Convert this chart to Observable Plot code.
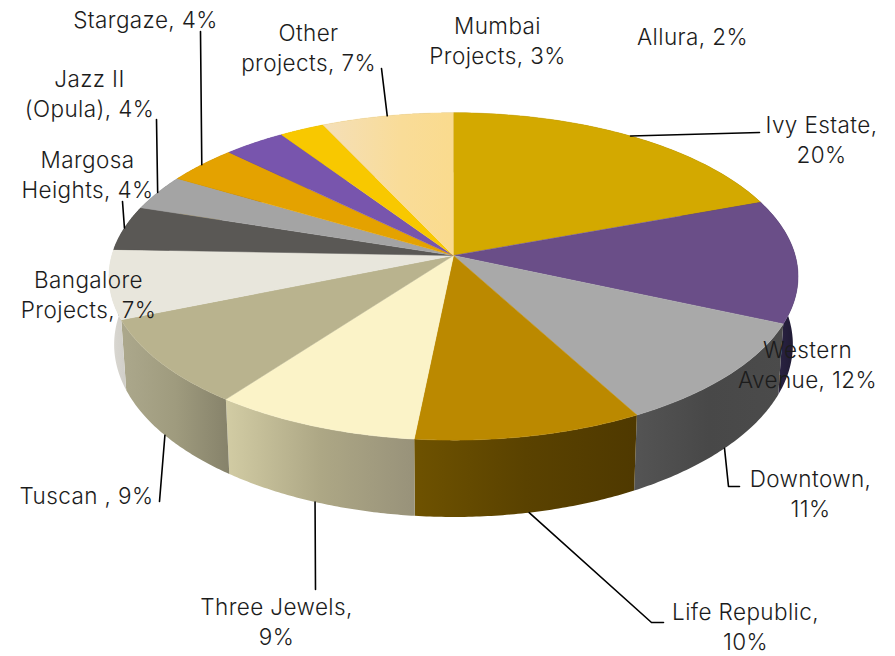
<!DOCTYPE html>
<html>
<head>
<meta charset="utf-8">
<script src="https://cdn.jsdelivr.net/npm/d3@7"></script>
<script src="https://cdn.jsdelivr.net/npm/@observablehq/plot@0.6"></script>
<style>
html,body{margin:0;padding:0;background:#fff;}
svg{display:block;}
svg text{letter-spacing:0.4px;}
</style>
</head>
<body>
<div id="chart"></div>
<script>
// Data, clockwise from twelve o'clock
const projects = ["Ivy Estate","Western Avenue","Downtown","Life Republic","Three Jewels","Tuscan","Bangalore Projects","Margosa Heights","Jazz II (Opula)","Stargaze","Mumbai Projects","Allura","Other projects"];
const shares = [19.4,12.2,10.5,9.5,8.6,8.6,6.8,4.4,3.5,3.8,3.3,2.4,7.0];
const faceColors = ["#d3a900","#6a4e88","#a9a9a9","#bb8900","#fbf3c8","#b9b38e","#e8e6dc","#5a5855","#a4a4a4","#e4a200","#7855ad","#f8c800","#f8dc98"];
const wallStops = [
  ["#8a7000","#6a5600"],["#3b2f58","#1c1830"],["#545454","#484848","#4b4b4b"],["#6e5200","#5a4200","#4f3900"],
  ["#d2cca4","#ada785","#98927a"],["#aca88c","#9f9b7e","#86826a"],["#dcdad4","#d0cec8"],["#444444","#333333"],
  ["#888888","#777777"],["#b08000","#906800"],["#5a4080","#4a3468"],["#c8a000","#a88800"],["#c8b070","#b09860"]
];
// Labels and their leader lines (chart layout)
const labelText = ["Ivy Estate,\n20%","Western\nAvenue, 12%","Downtown,\n11%","Life Republic,\n10%","Three Jewels,\n9%","Tuscan , 9%","Bangalore\nProjects, 7%","Margosa\nHeights, 4%","Jazz II\n(Opula), 4%","Stargaze, 4%","Mumbai\nProjects, 3%","Allura, 2%","Other\nprojects, 7%"];
const labelX = [821,807,810,745,276,86,88,87,89,145,497,692,308];
const labelY = [138,363,492,625,620,494,293,173,92,18,39,35,46];
// Where each leader leaves the slice: "face" rim, "base" rim, or no leader; then its bends
const leaderRing = ["face",null,"base","base","base","base",null,"face","face","face",null,null,"face"];
const leaderBends = [[[759,132]],[],[[728,486],[739,486]],[[651,622],[663,622]],[[315,589]],[[159,501]],[],[[122,201]],[[156,119]],[[200,31]],[],[],[[381,68]]];

// Pie geometry with a perspective foreshortening
const cx = 453, cy = 255, B = 341.7, A = 161, k = 0.128, depth = 67, baseShrink = 0.985;
const rim = t => {
  const s = 1 / (1 + k * Math.cos(t));
  return {x: cx + B * Math.sin(t) * s, y: cy - A * Math.cos(t) * s, s};
};
const base = t => {
  const p = rim(t);
  return {x: cx + (p.x - cx) * baseShrink, y: p.y + depth * p.s};
};
const total = d3.sum(shares);
const starts = d3.cumsum([0, ...shares]).map(v => v / total * 2 * Math.PI);
const arcAngles = (a, b) => d3.range(0, 61).map(i => a + (b - a) * i / 60);

const faces = shares.map((_, i) => [{x: cx, y: cy}, ...arcAngles(starts[i], starts[i + 1]).map(rim)]);
const walls = shares.map((_, i) => {
  const ts = arcAngles(starts[i], starts[i + 1]);
  return [...ts.map(rim), ...ts.slice().reverse().map(base)];
});
const leaders = projects.flatMap((name, i) => {
  if (!leaderRing[i]) return [];
  const mid = (starts[i] + starts[i + 1]) / 2;
  const from = leaderRing[i] === "face" ? rim(mid) : base(mid);
  return [from, ...leaderBends[i].map(([x, y]) => ({x, y}))].map(p => ({...p, name}));
});
const labels = projects.map((name, i) => ({name, text: labelText[i], x: labelX[i], y: labelY[i]}));

const gradients = () => {
  const defs = d3.create("svg:defs");
  wallStops.forEach((stops, i) => {
    const g = defs.append("linearGradient").attr("id", `wall${i}`).attr("x1", 0).attr("x2", 1).attr("y1", 0).attr("y2", 0);
    stops.forEach((c, j) => g.append("stop").attr("offset", j / (stops.length - 1)).attr("stop-color", c));
  });
  const o = defs.append("linearGradient").attr("id", "faceOther").attr("x1", 0).attr("x2", 1).attr("y1", 0).attr("y2", 0);
  o.append("stop").attr("offset", 0).attr("stop-color", "#f4dfb8");
  o.append("stop").attr("offset", 0.6).attr("stop-color", "#f9dc98");
  o.append("stop").attr("offset", 1).attr("stop-color", "#fadb8e");
  return defs.node();
};

const chart = Plot.plot({
  width: 895, height: 656,
  margin: 0,
  x: {domain: [0, 895], range: [0, 895], axis: null},
  y: {domain: [0, 656], range: [0, 656], axis: null},
  style: {background: "#fff", fontFamily: "Inter, Lato, 'Open Sans', sans-serif", fontWeight: 300},
  marks: [
    gradients,
    ...walls.map((pts, i) => Plot.line(pts, {x: "x", y: "y", fill: `url(#wall${i})`, stroke: "none"})),
    ...faces.map((pts, i) => Plot.line(pts, {x: "x", y: "y",
      fill: i === 12 ? "url(#faceOther)" : faceColors[i],
      stroke: faceColors[i], strokeWidth: 0.5})),
    Plot.line(leaders, {x: "x", y: "y", z: "name", stroke: "#000", strokeWidth: 1.6}),
    Plot.text(labels, {x: "x", y: "y", text: "text", fontSize: 22.5, lineHeight: 1.34, lineAnchor: "middle", textAnchor: "middle", fill: "#1c1c1c"})
  ]
});
document.getElementById("chart").append(chart);
</script>
</body>
</html>
